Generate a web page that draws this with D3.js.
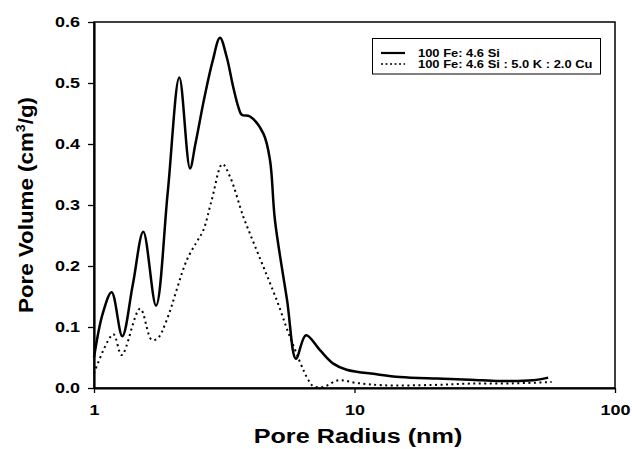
<!DOCTYPE html>
<html>
<head>
<meta charset="utf-8">
<script src="https://cdn.jsdelivr.net/npm/d3@7"></script>
<style>
  body { margin: 0; background: #fff; }
  text { font-family: "Liberation Sans", Arial, sans-serif; font-weight: bold; fill: #000; }
</style>
</head>
<body>
<svg id="chart" width="632" height="449"></svg>
<script>
// pore size distribution
var solidR = [1.0, 1.08, 1.169, 1.284, 1.41, 1.546, 1.73, 1.92, 2.126, 2.336, 2.45, 2.65, 2.85, 3.045, 3.23, 3.42, 3.58, 3.69, 3.97, 4.47, 4.74, 4.95, 5.51, 5.96, 6.51, 7.37, 8.29, 9.33, 12.17, 14.95, 20.7, 27.76, 36.2, 48.4, 55.4];
var solidV = [0.050, 0.122, 0.157, 0.085, 0.170, 0.256, 0.135, 0.322, 0.509, 0.360, 0.400, 0.475, 0.535, 0.574, 0.543, 0.494, 0.461, 0.448, 0.445, 0.417, 0.373, 0.275, 0.144, 0.048, 0.0865, 0.062, 0.040, 0.030, 0.0225, 0.018, 0.0154, 0.0137, 0.0115, 0.0126, 0.017];

var dotR = [1.0, 1.186, 1.277, 1.502, 1.665, 1.76, 1.90, 2.27, 2.48, 2.63, 2.83, 3.11, 3.33, 3.74, 3.97, 4.47, 5.03, 5.65, 6.65, 6.95, 7.59, 8.67, 10.2, 12.9, 20.0, 27.76, 40.0, 57.1];
var dotV = [0.024, 0.088, 0.054, 0.130, 0.079, 0.082, 0.111, 0.2095, 0.2395, 0.259, 0.308, 0.367, 0.346, 0.281, 0.253, 0.1985, 0.144, 0.084, 0.013, 0.003, 0.0016, 0.0126, 0.0082, 0.0045, 0.005, 0.0072, 0.0075, 0.0098];

var seriesNames = ["100 Fe: 4.6 Si", "100 Fe: 4.6 Si : 5.0 K : 2.0 Cu"];
var xTicks = [1, 10, 100];
var yTicks = [0, 0.1, 0.2, 0.3, 0.4, 0.5, 0.6];

var svg = d3.select("#chart");
var x0 = 94, x1 = 615, y0 = 388, y1 = 22;

var x = d3.scaleLog().domain([1, 100]).range([x0, x1]);
var y = d3.scaleLinear().domain([0, 0.6]).range([y0, y1]);

function stretch(sel, k) {
  sel.each(function () {
    var w = this.getComputedTextLength();
    d3.select(this).attr("textLength", w * k).attr("lengthAdjust", "spacingAndGlyphs");
  });
}

// frame (top and right)
svg.append("rect")
  .attr("x", x0).attr("y", y1)
  .attr("width", x1 - x0).attr("height", y0 - y1)
  .attr("fill", "none").attr("stroke", "#000").attr("stroke-width", 1.5);

var line = d3.line()
  .x(d => x(d[0]))
  .y(d => y(d[1]))
  .curve(d3.curveCatmullRom.alpha(0.5));

svg.append("path")
  .datum(solidR.map((r, i) => [r, solidV[i]]))
  .attr("d", line)
  .attr("fill", "none").attr("stroke", "#000").attr("stroke-width", 2.5);

svg.append("path")
  .datum(dotR.map((r, i) => [r, dotV[i]]))
  .attr("d", line)
  .attr("fill", "none").attr("stroke", "#000").attr("stroke-width", 2)
  .attr("stroke-dasharray", "2,3.5");

// axes
var xAxis = svg.append("g")
  .attr("transform", "translate(0," + y0 + ")")
  .call(d3.axisBottom(x).tickValues(xTicks).tickFormat(d3.format("d")).tickSize(5).tickPadding(11).tickSizeOuter(0));

var yAxis = svg.append("g")
  .attr("transform", "translate(" + x0 + ",0)")
  .call(d3.axisLeft(y).tickValues(yTicks).tickFormat(d3.format(".1f")).tickSize(6).tickPadding(8).tickSizeOuter(0));

[xAxis, yAxis].forEach(function (g) {
  g.select(".domain").attr("stroke-width", 2.2);
  g.selectAll(".tick line").attr("stroke-width", 1.3);
  g.selectAll(".tick text")
    .style("font-size", "15.5px")
    .style("font-family", "'Liberation Sans', Arial, sans-serif")
    .style("font-weight", "bold")
    .attr("fill", "#000");
  stretch(g.selectAll(".tick text"), 1.16);
});

// axis titles
var xt = svg.append("text")
  .attr("x", 358).attr("y", 443)
  .attr("text-anchor", "middle")
  .style("font-size", "20px")
  .text("Pore Radius (nm)");
stretch(xt, 1.26);

var yt = svg.append("text")
  .attr("transform", "translate(33,205) rotate(-90)")
  .attr("text-anchor", "middle")
  .style("font-size", "20.5px");
yt.append("tspan").text("Pore Volume (cm");
yt.append("tspan").text("3").attr("dy", -8).style("font-size", "13px");
yt.append("tspan").text("/g)").attr("dy", 8);
yt.attr("textLength", 216).attr("lengthAdjust", "spacingAndGlyphs");

// legend
var lg = svg.append("g");
lg.append("rect")
  .attr("x", 372.5).attr("y", 38.5).attr("width", 228).attr("height", 35.5)
  .attr("fill", "#fff").attr("stroke", "#000").attr("stroke-width", 1);

var dashes = [null, "2,2.5"];
var widths = [2.2, 1.6];
seriesNames.forEach(function (name, i) {
  var cy = 53 + i * 11;
  lg.append("line")
    .attr("x1", 381).attr("x2", 405).attr("y1", cy).attr("y2", cy)
    .attr("stroke", "#000").attr("stroke-width", widths[i])
    .attr("stroke-dasharray", dashes[i]);
  var t = lg.append("text")
    .attr("x", 418).attr("y", cy + 4)
    .style("font-size", "10.5px")
    .text(name);
  stretch(t, 1.23);
});
</script>
</body>
</html>
